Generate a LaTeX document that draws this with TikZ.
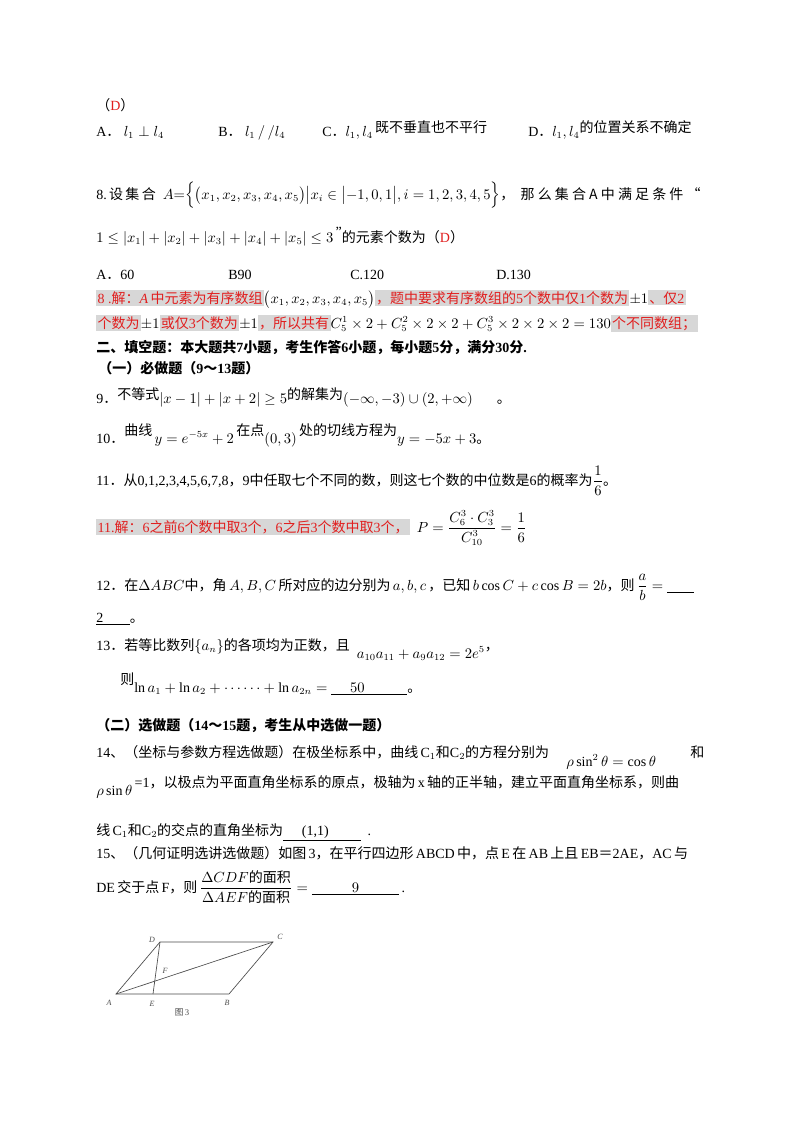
\documentclass[tikz,border=0pt]{standalone}
\usepackage{amsmath}
\usepackage{fontspec}
\setmainfont{Liberation Serif}
\newfontfamily\cjk{Noto Sans CJK SC}
\definecolor{ans}{RGB}{225,30,30}
\definecolor{hl}{RGB}{215,215,215}
\newcommand{\zh}[1]{{\cjk #1}}
\newcommand{\hlb}[1]{{\setlength{\fboxsep}{1pt}\colorbox{hl}{\color{ans}#1}}}
\tikzset{txt/.style={anchor=base west,inner sep=0pt,font=\fontsize{10.5}{12}\selectfont},
 fig/.style={line width=0.5pt,draw=black!70},
 flab/.style={inner sep=0pt,font=\fontsize{6}{7}\itshape\selectfont,text=black!70}}
\begin{document}
\begin{tikzpicture}[x=0.75pt,y=-0.75pt]
\useasboundingbox[fill=white] (0,0) rectangle (800,1132);
\node[txt] (d0) at (96,110) {\zh{（}\textcolor{ans}{D}\zh{）}};
\node[txt] (a7) at (96,136) {A\zh{．}\ $l_1\perp l_4$};
\node[txt] (b7) at (218,136) {B\zh{．}\ $l_1\,/\,/l_4$};
\node[txt] (c7) at (322,136) {C\zh{．}$l_1,l_4$\,\raisebox{3pt}{\zh{既不垂直也不平行}}};
\node[txt] (dd7) at (528,136) {D\zh{．}$l_1,l_4$\raisebox{3pt}{\zh{的位置关系不确定}}};
\node[txt] (q8) at (96,199) {8.\zh{\,设\,集\,合}\ \ $A{=}\Bigl\{\bigl(x_1,x_2,x_3,x_4,x_5\bigr)\big|x_i\in\bigl|-1,0,1\bigr|,i=1,2,3,4,5\Bigr\}$\zh{，\ \ 那\ 么\ 集\ 合\ A\ 中\ 满\ 足\ 条\ 件\ “}};
\node[txt] (q8b) at (96,242) {$1\le|x_1|+|x_2|+|x_3|+|x_4|+|x_5|\le3$\,\raisebox{4pt}{”}\zh{的元素个数为（}\textcolor{ans}{D}\zh{）}};
\node[txt] (o8a) at (96,279) {A\zh{．}60};
\node[txt] (o8b) at (228,279) {B90};
\node[txt] (o8c) at (350,279) {C.120};
\node[txt] (o8d) at (496,279) {D.130};
\node[txt] (s8a) at (96,303) {\hlb{8 .\zh{解：}\textit{A}\,\zh{中元素为有序数组}}$\bigl(x_1,x_2,x_3,x_4,x_5\bigr)$\hlb{\zh{，题中要求有序数组的}5\zh{个数中仅}1\zh{个数为}}$\pm1$\hlb{\zh{、仅}2}};
\node[txt] (s8b) at (96,328) {\hlb{\zh{个数为}}$\pm1$\hlb{\zh{或仅}3\zh{个数为}}$\pm1$\hlb{\zh{，所以共有}}$C_5^1\times2+C_5^2\times2\times2+C_5^3\times2\times2\times2=130$\hlb{\zh{个不同数组；}}};
\node[txt] (h2) at (96,352) {\zh{\bfseries 二、填空题：本大题共}\textbf{7}\zh{\bfseries 小题，考生作答}\textbf{6}\zh{\bfseries 小题，每小题}\textbf{5}\zh{\bfseries 分，满分}\textbf{30}\zh{\bfseries 分}\textbf{.}};
\node[txt] (h21) at (98,373) {\zh{\bfseries （一）必做题（}\textbf{9}\zh{\bfseries ～}\textbf{13}\zh{\bfseries 题）}};
\node[txt] (q9) at (96,403) {9\zh{．}\raisebox{3pt}{\zh{不等式}}$|x-1|+|x+2|\ge5$\raisebox{3pt}{\zh{的解集为}}$(-\infty,-3)\cup(2,+\infty)$\hspace{18pt}\zh{。}};
\node[txt] (q10) at (96,443) {10\zh{．}\raisebox{6pt}{\zh{曲线}}\,$y=e^{-5x}+2$\,\raisebox{6pt}{\zh{在点}}$(0,3)$\,\raisebox{6pt}{\zh{处的切线方程为}}$y=-5x+3$\zh{。}};
\node[txt] (q11) at (96,485) {11\zh{．}\zh{从}0,1,2,3,4,5,6,7,8\zh{，}9\zh{中任取七个不同的数，则这七个数的中位数是}6\zh{的概率为}$\dfrac{1}{6}$\zh{。}};
\node[txt] (s11) at (96,532) {\hlb{11.\zh{解：}6\zh{之前}6\zh{个数中取}3\zh{个，}6\zh{之后}3\zh{个数中取}3\zh{个，}}\ \ $P=\dfrac{C_6^3\cdot C_3^3}{C_{10}^3}=\dfrac{1}{6}$};
\node[txt] (q12) at (96,590) {12\zh{．}\zh{在}$\Delta ABC$\zh{中，角}\,$A,B,C$\,\zh{所对应的边分别为}\,$a,b,c$\,\zh{，已知}\,$b\cos C+c\cos B=2b$\zh{，则}\,$\dfrac{a}{b}=\underline{\hspace{20pt}}$};
\node[txt] (q12b) at (96,622) {\underline{2\hspace{20pt}}\zh{。}};
\node[txt] (q13) at (96,650) {13\zh{．}\zh{若等比数列}$\{a_n\}$\zh{的各项均为正数，且}\ \ \raisebox{-6pt}{$a_{10}a_{11}+a_9a_{12}=2e^5$}\zh{，}};
\node[txt] (q13b) at (120,692) {\raisebox{6pt}{\zh{则}}$\ln a_1+\ln a_2+\cdots\cdots+\ln a_{2n}=\underline{\hspace{14pt}50\hspace{32pt}}$\zh{。}};
\node[txt] (h22) at (96,730) {\zh{\bfseries （二）选做题（}\textbf{14}\zh{\bfseries ～}\textbf{15}\zh{\bfseries 题，考生从中选做一题）}};
\node[txt] (q14) at (96,757) {14\zh{、（坐标与参数方程选做题）在极坐标系中，曲线}\,C$_1$\zh{和}C$_2$\zh{的方程分别为}};
\node[txt] (q14m) at (566,766) {$\rho\sin^2\theta=\cos\theta$};
\node[txt] (q14h) at (690,757) {\zh{和}};
\node[txt] (q14b) at (96,795) {$\rho\sin\theta$\,\raisebox{6pt}{=1\zh{，以极点为平面直角坐标系的原点，极轴为}\,x\,\zh{轴的正半轴，建立平面直角坐标系，则曲}}};
\node[txt] (q14c) at (96,835) {\zh{线}\,C$_1$\zh{和}C$_2$\zh{的交点的直角坐标为}\underline{\hspace{14pt}(1,1)\hspace{24pt}}\ \ .};
\node[txt] (q15) at (96,858) {15\zh{、（几何证明选讲选做题）如图}\,3\zh{，在平行四边形}\,ABCD\,\zh{中，点}\,E\,\zh{在}\,AB\,\zh{上且}\,EB\zh{＝}2AE\zh{，}AC\,\zh{与}};
\node[txt] (q15b) at (96,892) {DE\,\zh{交于点}\,F\zh{，则}\,$\dfrac{\Delta CDF\mbox{\cjk 的面积}}{\Delta AEF\mbox{\cjk 的面积}}=\underline{\hspace{30pt}9\hspace{30pt}}$\,.};
% figure
\coordinate (A) at (116,994);
\coordinate (B) at (229,994);
\coordinate (C) at (273,942);
\coordinate (D) at (160,942);
\coordinate (E) at (153,994);
\draw[fig] (A) -- (B) -- (C) -- (D) -- cycle;
\draw[fig] (A) -- (C);
\draw[fig] (D) -- (E);
\node[flab] (lA) at (109,1003) {A};
\node[flab] (lB) at (227,1003) {B};
\node[flab] (lC) at (280,937) {C};
\node[flab] (lD) at (152,940) {D};
\node[flab] (lE) at (152,1004) {E};
\node[flab] (lF) at (165,971) {F};
\node[inner sep=0pt,font=\fontsize{6.5}{7}\selectfont,text=black!70] (cap) at (182,1012) {\zh{图}\,3};
\end{tikzpicture}
\end{document}
